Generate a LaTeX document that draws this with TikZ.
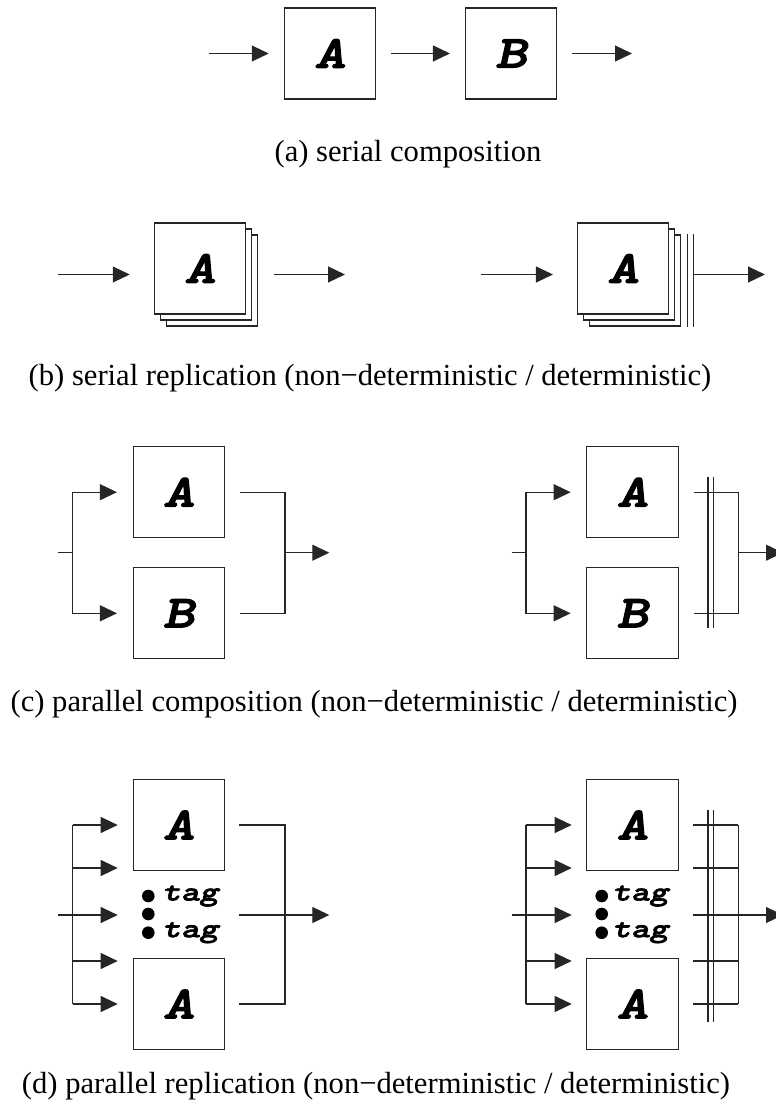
\documentclass[tikz,border=0pt]{standalone}
\usepackage{fontspec}
\setmainfont{Liberation Serif}
\newfontfamily\blockfont{lmmonolt10-boldoblique.otf}[FakeBold=2.4,FakeStretch=1.32]
\usetikzlibrary{arrows.meta}

\tikzset{
  wire/.style={line width=1.1pt, draw=black!85},
  flow/.style={wire, -{Triangle[length=17pt,width=16pt]}},
  block/.style={draw=black!85, line width=1.1pt, fill=white,
    minimum width=91.4pt, minimum height=91pt, inner sep=0pt,
    font=\blockfont\fontsize{46}{46}\selectfont},
  ghost/.style={block, font=\normalsize},
  caption/.style={anchor=base, inner sep=0pt, font=\fontsize{30.6}{36}\selectfont},
  tagtext/.style={anchor=west, inner sep=0pt,
    font=\blockfont\fontsize{27}{27}\selectfont},
  dot/.style={circle, fill=black, inner sep=0pt, minimum size=12.6pt},
}

\begin{document}
\begin{tikzpicture}[x=1pt,y=-1pt]
\useasboundingbox (0,0) rectangle (776,1119);
\clip (0,0) rectangle (776,1119);

% ---------- (a) serial composition ----------
\node[block] (a1) at (330,53.5) {A};
\node[block] (a2) at (511.2,53.5) {B};
\coordinate (a0) at (209,53.5);
\coordinate (a3) at (632,53.5);
\draw[flow, shorten >=15pt] (a0) -- (a1.west);
\draw[flow, shorten <=15pt, shorten >=15pt] (a1.east) -- (a2.west);
\draw[flow, shorten <=15pt] (a2.east) -- (a3);
\node[caption] (capa) at (408,161.5) {(a) serial composition};

% ---------- (b) serial replication ----------
% non-deterministic
\node[ghost] (b1c) at (212,280.5) {};
\node[ghost] (b1b) at (206,274.5) {};
\node[block] (b1) at (200,268.5) {A};
\coordinate (b1in) at (57.7,274.5);
\coordinate (b1out) at (345,274.5);
\draw[flow, shorten >=24pt] (b1in) -- (b1.west |- b1in);
\draw[flow, shorten <=15.4pt] (b1c.east |- b1out) -- (b1out);
% deterministic
\node[ghost] (b2c) at (635.2,280.5) {};
\node[ghost] (b2b) at (629.2,274.5) {};
\node[block] (b2) at (623.2,268.5) {A};
\coordinate (b2in) at (481,274.5);
\coordinate (b2out) at (765,274.5);
\coordinate (b2m1t) at ([xshift=6pt]b2c.north east);
\coordinate (b2m1b) at ([xshift=6pt]b2c.south east);
\coordinate (b2m2t) at ([xshift=12pt]b2c.north east);
\coordinate (b2m2b) at ([xshift=12pt]b2c.south east);
\draw[wire] (b2m1t) -- (b2m1b);
\draw[wire] (b2m2t) -- (b2m2b);
\draw[flow, shorten >=24pt] (b2in) -- (b2.west |- b2in);
\draw[flow] (b2m2t |- b2out) -- (b2out);
\node[caption] (capb) at (370,385) {(b) serial replication (non−deterministic / deterministic)};

% ---------- (c) parallel composition ----------
% non-deterministic
\node[block] (c1a) at (178.8,492.2) {A};
\node[block] (c1b) at (178.8,613.3) {B};
\coordinate (c1in) at (57.7,552.7);
\coordinate (c1split) at (72.7,552.7);
\coordinate (c1join) at (285,552.7);
\coordinate (c1out) at (329.3,552.7);
\draw[wire] (c1in) -- (c1split);
\draw[flow, shorten >=15.6pt] (c1split) |- (c1a.west);
\draw[flow, shorten >=15.6pt] (c1split) |- (c1b.west);
\draw[wire, shorten <=15pt] (c1a.east) -| (c1join);
\draw[wire, shorten <=15pt] (c1b.east) -| (c1join);
\draw[flow] (c1join) -- (c1out);
% deterministic
\node[block] (c2a) at (632.5,492.2) {A};
\node[block] (c2b) at (632.5,613.3) {B};
\coordinate (c2in) at (511.7,552.7);
\coordinate (c2split) at (526,552.7);
\coordinate (c2join) at (738.3,552.7);
\coordinate (c2out) at (783,552.7);
\draw[wire] (c2in) -- (c2split);
\draw[flow, shorten >=15.6pt] (c2split) |- (c2a.west);
\draw[flow, shorten >=15.6pt] (c2split) |- (c2b.west);
\draw[wire, shorten <=15.6pt] (c2a.east) -| (c2join);
\draw[wire, shorten <=15.6pt] (c2b.east) -| (c2join);
\draw[flow] (c2join) -- (c2out);
\coordinate (c2m1t) at (708,476.7);
\coordinate (c2m1b) at (708,628.3);
\coordinate (c2m2t) at (713.3,476.7);
\coordinate (c2m2b) at (713.3,628.3);
\draw[wire] (c2m1t) -- (c2m1b);
\draw[wire] (c2m2t) -- (c2m2b);
\node[caption] (capc) at (374,711.5) {(c) parallel composition (non−deterministic / deterministic)};

% ---------- (d) parallel replication ----------
% non-deterministic
\node[block] (d1a) at (178.8,825) {A};
\node[block] (d1b) at (178.8,1004) {A};
\coordinate (d1in) at (58.3,915);
\coordinate (d1bt) at (72.7,825);
\coordinate (d1bb) at (72.7,1004);
\draw[wire] (d1bt) -- (d1bb);
\foreach \yy/\k in {825/1,868/2,961/4,1004/5}{
  \coordinate (d1s\k) at (72.7,\yy);
  \coordinate (d1t\k) at (117.7,\yy);
  \draw[flow] (d1s\k) -- (d1t\k);
}
\coordinate (d1t3) at (117.7,915);
\draw[flow] (d1in) -- (d1t3);
\coordinate (d1o1) at (239.3,825);
\coordinate (d1o5) at (239.3,1004);
\coordinate (d1jb) at (285,1004);
\draw[wire] (d1o1) -| (d1jb) -- (d1o5);
\coordinate (d1o3) at (239.3,915);
\coordinate (d1out) at (329.3,915);
\draw[flow] (d1o3) -- (d1out);
\node[dot] (d1p1) at (148.3,896) {};
\node[dot] (d1p2) at (148.3,914) {};
\node[dot] (d1p3) at (148.3,932.7) {};
\node[tagtext] (d1tag1) at (162,896) {tag};
\node[tagtext] (d1tag2) at (162,932.7) {tag};
% deterministic
\node[block] (d2a) at (632.5,825) {A};
\node[block] (d2b) at (632.5,1004) {A};
\coordinate (d2in) at (511.7,915);
\coordinate (d2bt) at (526,825);
\coordinate (d2bb) at (526,1004);
\draw[wire] (d2bt) -- (d2bb);
\foreach \yy/\k in {825/1,868/2,961/4,1004/5}{
  \coordinate (d2s\k) at (526,\yy);
  \coordinate (d2t\k) at (571.7,\yy);
  \draw[flow] (d2s\k) -- (d2t\k);
}
\coordinate (d2t3) at (571.7,915);
\draw[flow] (d2in) -- (d2t3);
\foreach \yy/\k in {825/1,868/2,961/4,1004/5}{
  \coordinate (d2o\k) at (693.3,\yy);
  \coordinate (d2j\k) at (738.3,\yy);
  \draw[wire] (d2o\k) -- (d2j\k);
}
\draw[wire] (d2j1) -- (d2j5);
\coordinate (d2o3) at (693.3,915);
\coordinate (d2out) at (783,915);
\draw[flow] (d2o3) -- (d2out);
\coordinate (d2m1t) at (708,810);
\coordinate (d2m1b) at (708,1021.7);
\coordinate (d2m2t) at (713.3,810);
\coordinate (d2m2b) at (713.3,1021.7);
\draw[wire] (d2m1t) -- (d2m1b);
\draw[wire] (d2m2t) -- (d2m2b);
\node[dot] (d2p1) at (601.7,896) {};
\node[dot] (d2p2) at (601.7,914) {};
\node[dot] (d2p3) at (601.7,932.7) {};
\node[tagtext] (d2tag1) at (612,896) {tag};
\node[tagtext] (d2tag2) at (612,932.7) {tag};
\node[caption] (capd) at (376,1093) {(d) parallel replication (non−deterministic / deterministic)};
\end{tikzpicture}
\end{document}
